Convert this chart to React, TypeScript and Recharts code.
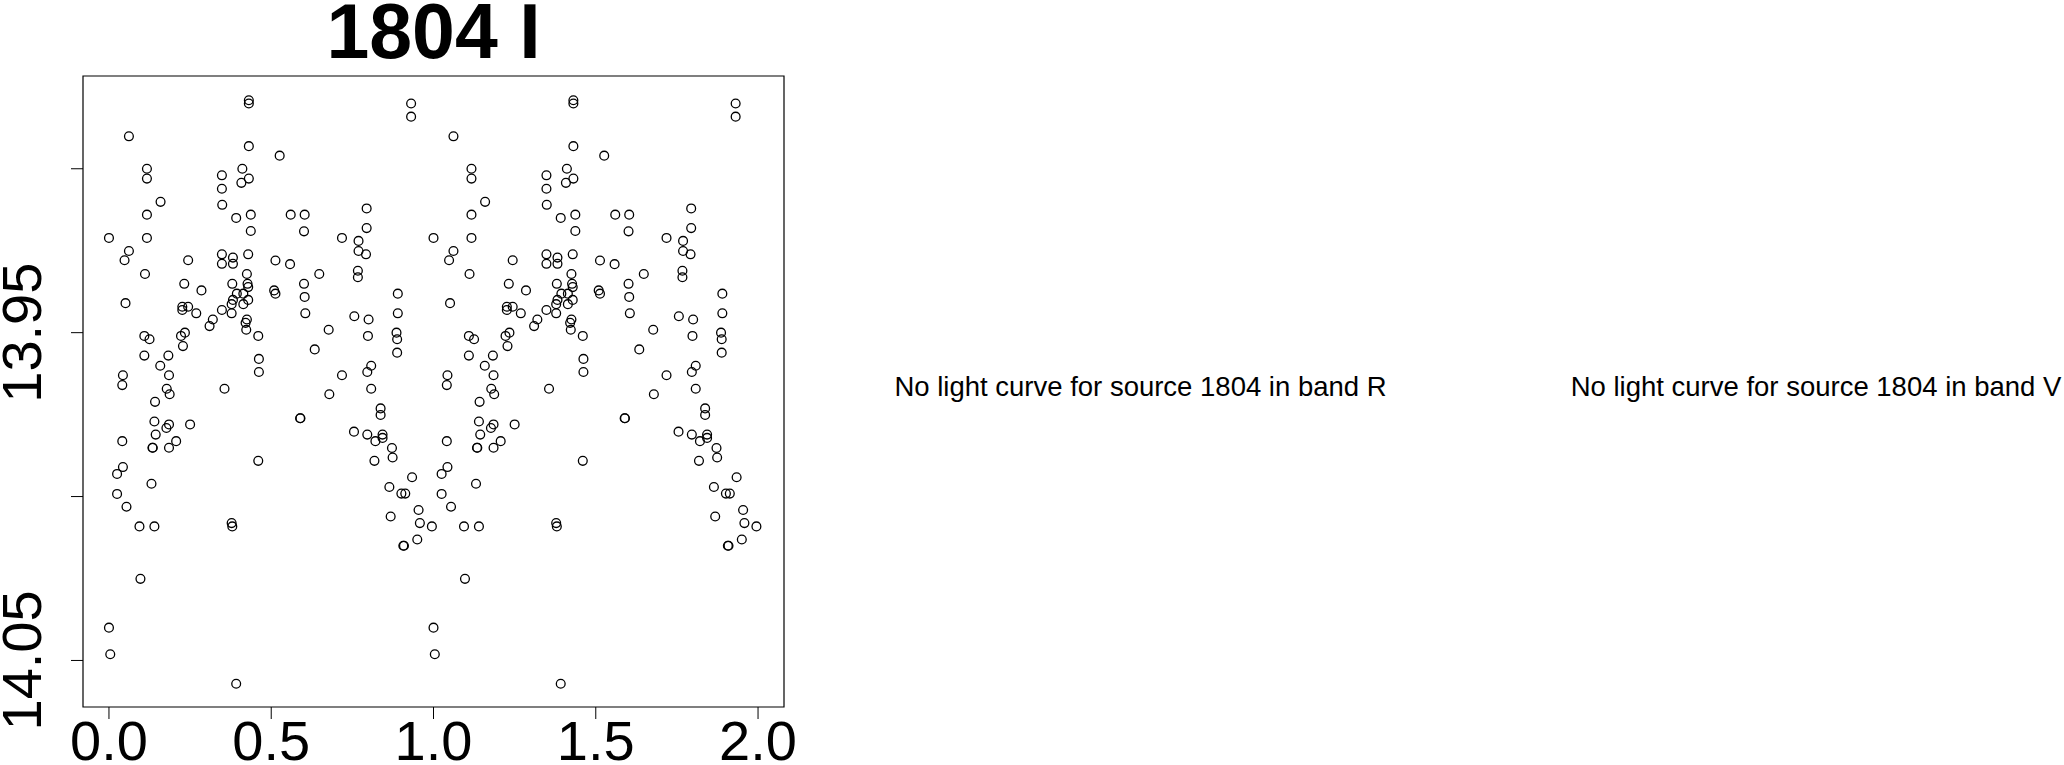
import { ReferenceArea, Scatter, ScatterChart, XAxis, YAxis } from 'recharts'

const phase = [
  0.431, 0.431, 0.0615, 0.431, 0.117, 0.117, 0.411, 0.431, 0.408, 0.348,
  0.348, 0.349, 0.159, 0.117, 0.392, 0.437, 0.437, 0.0, 0.117, 0.0615,
  0.048, 0.244, 0.348, 0.348, 0.382, 0.382, 0.429, 0.111, 0.425, 0.232,
  0.285, 0.38, 0.427, 0.429, 0.394, 0.414, 0.429, 0.382, 0.378, 0.414,
  0.051, 0.226, 0.244, 0.226, 0.269, 0.348, 0.378, 0.32, 0.31, 0.425,
  0.421, 0.423, 0.46, 0.109, 0.125, 0.234, 0.222, 0.228, 0.109, 0.183,
  0.158, 0.462, 0.462, 0.043, 0.041, 0.185, 0.178, 0.187, 0.356,
  0.931, 0.931, 0.526, 0.56, 0.603, 0.601, 0.794, 0.794, 0.718, 0.769,
  0.769, 0.792, 0.513, 0.558, 0.648, 0.767, 0.767, 0.601, 0.603, 0.605,
  0.509, 0.513, 0.89, 0.89, 0.756, 0.8, 0.677, 0.798, 0.886, 0.888,
  0.888, 0.634, 0.808, 0.796, 0.718, 0.808, 0.679,
  0.142, 0.14, 0.185, 0.177, 0.25, 0.144, 0.041, 0.134, 0.135, 0.185,
  0.207, 0.46, 0.043, 0.025, 0.131, 0.025, 0.054, 0.094, 0.14, 0.378,
  0.38, 0.097, 0.0, 0.004, 0.392,
  0.837, 0.837, 0.589, 0.59, 0.755, 0.796, 0.821, 0.843, 0.843, 0.872,
  0.874, 0.818, 0.934, 0.864, 0.901, 0.913, 0.954, 0.868, 0.958, 0.995,
  0.95, 0.907, 0.909,
]

const mag = [
  13.8791, 13.8801, 13.8901, 13.8931, 13.9, 13.903, 13.9, 13.903, 13.9043, 13.902,
  13.9061, 13.911, 13.9101, 13.914, 13.915, 13.914, 13.919, 13.9211, 13.9211, 13.9251,
  13.9279, 13.9279, 13.9261, 13.929, 13.9271, 13.929, 13.9261, 13.9321, 13.9321, 13.9351,
  13.9371, 13.9351, 13.9351, 13.9361, 13.9381, 13.9381, 13.94, 13.94, 13.9413, 13.9413,
  13.941, 13.9421, 13.9421, 13.9431, 13.9441, 13.9431, 13.9441, 13.946, 13.948, 13.946,
  13.947, 13.9491, 13.951, 13.951, 13.952, 13.95, 13.951, 13.9541, 13.957, 13.957,
  13.9601, 13.958, 13.962, 13.963, 13.966, 13.963, 13.9671, 13.9688, 13.9671,
  13.8801, 13.8841, 13.896, 13.914, 13.914, 13.9191, 13.9121, 13.9181, 13.9211, 13.922,
  13.9251, 13.9261, 13.928, 13.9291, 13.9321, 13.9311, 13.9331, 13.9351, 13.9391, 13.9441,
  13.9371, 13.9381, 13.9381, 13.9441, 13.945, 13.946, 13.9491, 13.951, 13.95, 13.952,
  13.9561, 13.9551, 13.9601, 13.962, 13.963, 13.9671, 13.9688,
  13.9711, 13.9771, 13.978, 13.9791, 13.978, 13.9811, 13.9831, 13.9851, 13.9851, 13.9851,
  13.9831, 13.9891, 13.991, 13.9931, 13.9961, 13.9992, 14.0031, 14.0091, 14.0091, 14.0081,
  14.0091, 14.0251, 14.04, 14.0481, 14.0571,
  13.9731, 13.9751, 13.9761, 13.9761, 13.9802, 13.9811, 13.9831, 13.9811, 13.9821, 13.9852,
  13.9881, 13.9891, 13.9941, 13.9971, 13.9991, 13.9991, 14.0041, 14.0061, 14.0081, 14.0091,
  14.0131, 14.015, 14.015,
]

const xTicks = [0, 0.5, 1, 1.5, 2]
const yTicks = [13.9, 13.95, 14.0, 14.05]
const yLabelled = ['13.95', '14.05']
const xDomain = [-0.08, 2.08]
const yDomain = [13.8717, 14.0642]

const title = '1804 I'
const missing = ['No light curve for source 1804 in band R', 'No light curve for source 1804 in band V']

const FONT = '"Liberation Sans", Arial, Helvetica, sans-serif'

// phase-folded: every point is shown twice, once per cycle
const points = [
  ...phase.map((p, i) => ({ phase: p, mag: mag[i] })),
  ...phase.map((p, i) => ({ phase: p + 1, mag: mag[i] })),
]

function XTick(props: any) {
  return (
    <text x={props.x} y={760} textAnchor="middle" fontSize={56} fontFamily={FONT} fill="#000">
      {Number(props.payload.value).toFixed(1)}
    </text>
  )
}

function YTick(props: any) {
  const label = Number(props.payload.value).toFixed(2)
  if (!yLabelled.includes(label)) return <g />
  return (
    <text
      x={41.5}
      y={props.y}
      transform={`rotate(-90, 41.5, ${props.y})`}
      textAnchor="middle"
      fontSize={56}
      fontFamily={FONT}
      fill="#000"
    >
      {label}
    </text>
  )
}

function Ring(props: any) {
  return <circle cx={props.cx} cy={props.cy} r={4.4} fill="none" stroke="#000" strokeWidth={1.3} />
}

export default function App() {
  return (
    <div style={{ position: 'absolute', left: 0, top: 0, width: 2064, height: 765, background: '#fff' }}>
      <ScatterChart width={2064} height={765} margin={{ top: 76, right: 1280, bottom: 0, left: 0 }}>
        <XAxis
          type="number"
          dataKey="phase"
          domain={xDomain}
          ticks={xTicks}
          interval={0}
          allowDataOverflow
          height={58}
          tickSize={12}
          axisLine={false}
          tickLine={{ stroke: '#000', strokeWidth: 1 }}
          tick={XTick}
        />
        <YAxis
          type="number"
          dataKey="mag"
          domain={yDomain}
          ticks={yTicks}
          interval={0}
          reversed
          allowDataOverflow
          width={83}
          tickSize={12}
          axisLine={false}
          tickLine={{ stroke: '#000', strokeWidth: 1 }}
          tick={YTick}
        />
        <ReferenceArea
          x1={xDomain[0]}
          x2={xDomain[1]}
          y1={yDomain[0]}
          y2={yDomain[1]}
          fill="none"
          stroke="#000"
          strokeWidth={1.2}
          ifOverflow="visible"
        />
        <Scatter data={points} shape={Ring} isAnimationActive={false} />
      </ScatterChart>
      <svg width={2064} height={765} style={{ position: 'absolute', left: 0, top: 0, pointerEvents: 'none' }}>
        <text x={433.5} y={58} textAnchor="middle" fontSize={77} fontWeight="bold" fontFamily={FONT} fill="#000">
          {title}
        </text>
        <text x={1140.5} y={395.7} textAnchor="middle" fontSize={27.5} fontFamily={FONT} fill="#000">
          {missing[0]}
        </text>
        <text x={1816} y={395.7} textAnchor="middle" fontSize={27.5} fontFamily={FONT} fill="#000">
          {missing[1]}
        </text>
      </svg>
    </div>
  )
}
